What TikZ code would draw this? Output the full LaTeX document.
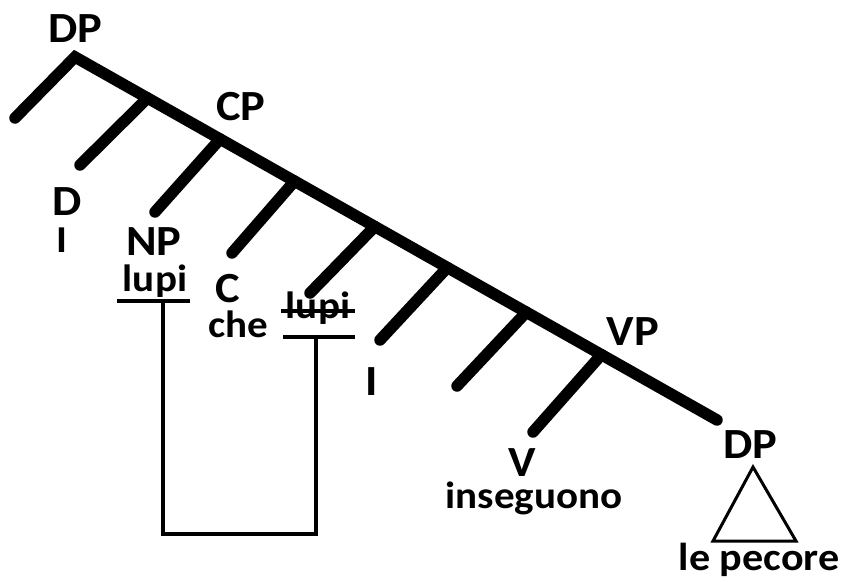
\documentclass[tikz,border=0pt]{standalone}
\usepackage{fontspec}
\setmainfont{Carlito}[FakeStretch=1.08]
\usetikzlibrary{calc}
\begin{document}
\begin{tikzpicture}[x=1pt,y=-1pt,
  spine/.style={line width=11.5pt,line cap=round,line join=miter},
  thin/.style={line width=3.5pt},
  big/.style={font=\bfseries\fontsize{43}{50}\selectfont,inner sep=0pt,anchor=base},
  small/.style={font=\bfseries\fontsize{38}{44}\selectfont,inner sep=0pt,anchor=base}]
\useasboundingbox (0,0) rectangle (842,581);
% spine
\coordinate (top) at (75,57);
\coordinate (bot) at (717,420);
\coordinate (l0) at (15,118);
\draw[spine] (l0) -- (top) -- (bot);
\foreach \j/\ex/\ey [count=\i] in {0.113/80/165, 0.226/155/212, 0.342/232/253, 0.467/310/293, 0.580/380/340, 0.703/457/386, 0.820/533/432}{
  \coordinate (j\i) at ($(top)!\j!(bot)$);
  \coordinate (e\i) at (\ex,\ey);
  \draw[spine] (j\i) -- (e\i);
}
% labels
\node[big] (dp1) at (75,42) {DP};
\node[big] (cp) at (241,120) {CP};
\node[big] (d) at (67,215) {D};
\node[small] (dI) at (62,252) {I};
\node[big] (np) at (154,255) {NP};
\node[small] (lupi1) at (155,291) {lupi};
\node[big] (c) at (228,302) {C};
\node[small] (che) at (238,337) {che};
\node[small] (lupi2) at (318,318) {lupi};
\node[big] (i) at (372,395) {I};
\node[big] (vp) at (633,345) {VP};
\node[big] (v) at (522,476) {V};
\node[small] (ins) at (534,508) {inseguono};
\node[big] (dp2) at (750,458) {DP};
\node[small,font=\bfseries\fontsize{39}{44}\selectfont] (pec) at (759,570) {le pecore};
% underlines and strike
\coordinate (u1l) at (117,301); \coordinate (u1r) at (190,301);
\coordinate (u2l) at (283,337); \coordinate (u2r) at (355,337);
\coordinate (s2l) at (281,311); \coordinate (s2r) at (355,311);
\draw[thin] (u1l) -- (u1r);
\draw[thin] (u2l) -- (u2r);
\draw[thin] (s2l) -- (s2r);
% movement connector
\coordinate (m1) at (163,301);
\coordinate (m2) at (316,337);
\draw[line width=4pt,line join=miter] (m1) -- (163,534) -- (316,534) -- (m2);
% triangle
\coordinate (ta) at (753,467);
\coordinate (tl) at (713,541);
\coordinate (tr) at (796,541);
\draw[line width=3pt,line join=miter] (ta) -- (tl) -- (tr) -- cycle;
\end{tikzpicture}
\end{document}
